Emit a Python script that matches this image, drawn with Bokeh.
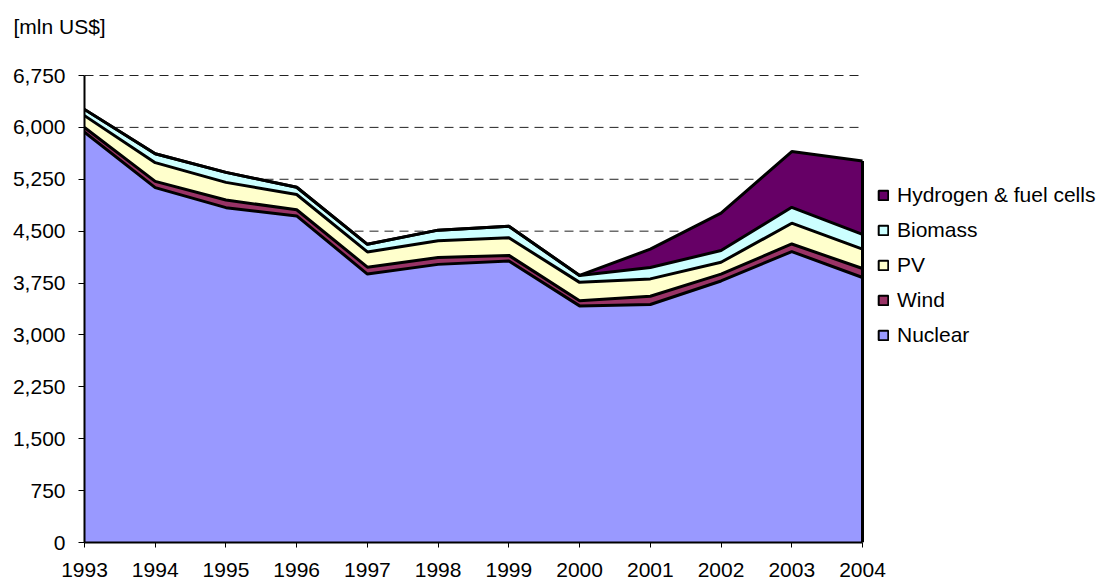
from bokeh.plotting import figure
from bokeh.models import (ColumnDataSource, Range1d, FixedTicker, NumeralTickFormatter,
                          Legend, LegendItem, Title)
from bokeh.embed import file_html
from bokeh.resources import INLINE

# ---- data ----
years = [1993, 1994, 1995, 1996, 1997, 1998, 1999, 2000, 2001, 2002, 2003, 2004]
nuclear = [5930, 5130, 4840, 4720, 3880, 4020, 4070, 3420, 3440, 3780, 4205, 3830]
wind = [70, 90, 110, 90, 100, 100, 80, 75, 120, 100, 110, 130]
pv = [170, 270, 255, 220, 220, 240, 255, 265, 250, 170, 300, 280]
biomass = [90, 130, 145, 105, 110, 155, 165, 100, 165, 170, 230, 215]
hydrogen = [0, 0, 0, 0, 0, 0, 0, 0, 265, 540, 805, 1060]

series_names = ["Nuclear", "Wind", "PV", "Biomass", "Hydrogen & fuel cells"]
series_keys = ["nuclear", "wind", "pv", "biomass", "hydrogen"]
series_colors = ["#9999FF", "#993366", "#FFFFCC", "#CCFFFF", "#660066"]
y_ticks = [0, 750, 1500, 2250, 3000, 3750, 4500, 5250, 6000, 6750]
unit_label = "[mln US$]"

source = ColumnDataSource(dict(year=years, nuclear=nuclear, wind=wind, pv=pv,
                               biomass=biomass, hydrogen=hydrogen))

FONT = "Liberation Sans"
FS = "21px"

# ---- layout (pixels) ----
W, H = 1114, 584
LEFT, TOP, BOTTOM = 84, 73, 42
DATA_W = 778          # pixel width of the 1993..2004 span
DATA_H = 467          # pixel height of the 0..6750 span
frame_w = W - LEFT
frame_h = H - TOP - BOTTOM
x_end = years[-1] + (frame_w - DATA_W) * (years[-1] - years[0]) / DATA_W
y_end = y_ticks[-1] * frame_h / DATA_H

p = figure(width=W, height=H, output_backend="svg", toolbar_location=None,
           x_range=Range1d(years[0], x_end), y_range=Range1d(y_ticks[0], y_end),
           min_border_left=LEFT, min_border_right=0, min_border_top=TOP, min_border_bottom=BOTTOM)
p.outline_line_color = None
p.background_fill_color = "white"
p.border_fill_color = "white"

# dashed horizontal gridlines over the data span only
p.segment(x0=[years[0]] * len(y_ticks), x1=[years[-1]] * len(y_ticks), y0=y_ticks, y1=y_ticks,
          line_color="#222222", line_width=1, line_dash="9 6")

# areas
p.varea_stack(series_keys, x="year", color=series_colors, source=source)
# boundary lines
p.vline_stack(series_keys, x="year", line_color="black", line_width=3, source=source)
# right edge of the stack
totals = [a + b + c + d + e for a, b, c, d, e in zip(nuclear, wind, pv, biomass, hydrogen)]
p.segment(x0=[years[-1]], y0=[0], x1=[years[-1]], y1=[totals[-1]], line_color="black", line_width=3)

p.xgrid.visible = False
p.ygrid.visible = False

# axes
p.yaxis.ticker = FixedTicker(ticks=y_ticks)
p.yaxis.formatter = NumeralTickFormatter(format="0,0")
p.yaxis.bounds = (y_ticks[0], y_ticks[-1])
p.xaxis.ticker = FixedTicker(ticks=years)
p.xaxis.bounds = (years[0], years[-1])
for ax in (p.xaxis, p.yaxis):
    ax.axis_line_color = "black"
    ax.axis_line_width = 2
    ax.major_tick_line_color = "black"
    ax.major_tick_line_width = 1
    ax.major_tick_in = 0
    ax.minor_tick_line_color = None
    ax.major_label_text_font = FONT
    ax.major_label_text_font_size = FS
    ax.major_label_text_color = "black"
p.yaxis.major_tick_out = 6
p.yaxis.major_label_standoff = 13
p.xaxis.major_tick_out = 5
p.xaxis.major_label_standoff = 15

# legend (inside the widened frame, right of the data)
nan = float("nan")
items = []
for name, col in zip(series_names[::-1], series_colors[::-1]):
    r = p.quad(left=[nan], right=[nan], top=[nan], bottom=[nan],
               fill_color=col, line_color="black", line_width=2)
    items.append(LegendItem(label=name, renderers=[r]))
legend = Legend(items=items, location=(793, 195), orientation="vertical",
                glyph_width=12, glyph_height=12, label_height=24, spacing=11,
                label_standoff=8, padding=0, margin=0,
                label_text_font=FONT, label_text_font_size=FS, label_text_color="black",
                border_line_color=None, background_fill_alpha=0)
p.add_layout(legend, "center")

# unit label, lifted above the frame by an empty spacer title
p.add_layout(Title(text=" ", align="left", standoff=10, text_font=FONT,
                   text_font_size=FS), "above")
p.add_layout(Title(text=unit_label, align="left", offset=-71, standoff=1,
                   text_font=FONT, text_font_size=FS, text_font_style="normal",
                   text_color="black"), "above")

open("out.html", "w").write(file_html(p, INLINE))
